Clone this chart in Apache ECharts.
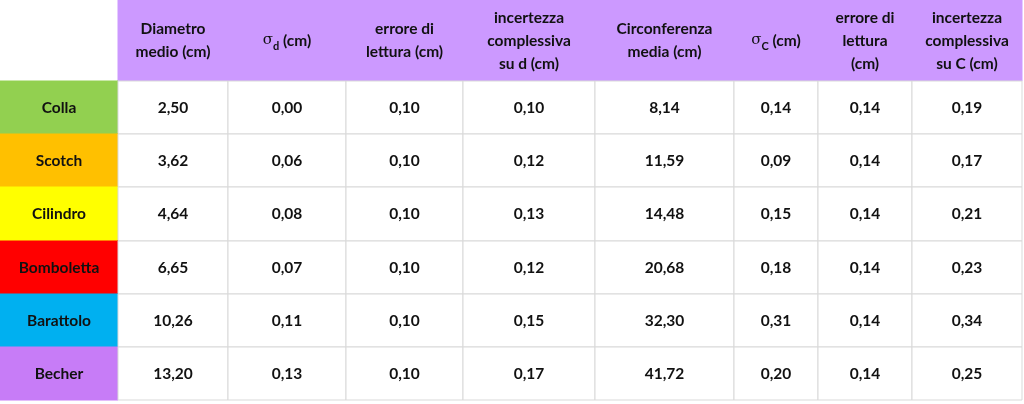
<!DOCTYPE html>
<html><head><meta charset="utf-8">
<script src="https://cdn.jsdelivr.net/npm/echarts@6/dist/echarts.min.js"></script>
<style>html,body{margin:0;padding:0;background:#fff}#c{width:1024px;height:404px}</style>
</head><body><div id="c"></div>
<script>
const headers = ["", "Diametro\nmedio (cm)", "{s|σ}{sub|d} (cm)", "errore di\nlettura (cm)", "incertezza\ncomplessiva\nsu d (cm)", "Circonferenza\nmedia (cm)", "{s|σ}{sub|C} (cm)", "errore di\nlettura\n(cm)", "incertezza\ncomplessiva\nsu C (cm)"];
const objects = ["Colla", "Scotch", "Cilindro", "Bomboletta", "Barattolo", "Becher"];
const diametro = ["2,50", "3,62", "4,64", "6,65", "10,26", "13,20"];
const sigmaD = ["0,00", "0,06", "0,08", "0,07", "0,11", "0,13"];
const erroreD = ["0,10", "0,10", "0,10", "0,10", "0,10", "0,10"];
const incD = ["0,10", "0,12", "0,13", "0,12", "0,15", "0,17"];
const circ = ["8,14", "11,59", "14,48", "20,68", "32,30", "41,72"];
const sigmaC = ["0,14", "0,09", "0,15", "0,18", "0,31", "0,20"];
const erroreC = ["0,14", "0,14", "0,14", "0,14", "0,14", "0,14"];
const incC = ["0,19", "0,17", "0,21", "0,23", "0,34", "0,25"];

// layout (styling only)
const colEdges = [0, 118, 228, 346, 463, 595, 734, 818, 912, 1022];
const rowEdges = [0, 81, 134, 187, 241, 294, 347, 400];
const rowColors = ["#92d050", "#ffc000", "#ffff00", "#ff0000", "#00b0f0", "#c77cf7"];
const headerColor = "#cc99ff";

const cols = [objects, diametro, sigmaD, erroreD, incD, circ, sigmaC, erroreC, incC];
const cells = [];
for (let c = 0; c < headers.length; c++) cells.push({value: [c, 0], text: headers[c]});
for (let r = 0; r < objects.length; r++)
  for (let c = 0; c < cols.length; c++) cells.push({value: [c, r + 1], text: cols[c][r]});

const chart = echarts.init(document.getElementById('c'));
chart.setOption({
  animation: false,
  grid: {left: 0, right: 0, top: 0, bottom: 0},
  xAxis: {type: 'value', min: 0, max: 1024, show: false},
  yAxis: {type: 'value', min: 0, max: 404, inverse: true, show: false},
  series: [{
    type: 'custom',
    data: cells,
    renderItem: function (params, api) {
      const c = api.value(0), r = api.value(1);
      const p0 = api.coord([colEdges[c], rowEdges[r]]);
      const p1 = api.coord([colEdges[c + 1], rowEdges[r + 1]]);
      let fill = '#fff';
      if (r === 0 && c > 0) fill = headerColor;
      else if (r > 0 && c === 0) fill = rowColors[r - 1];
      const txt = cells[params.dataIndex].text;
      return {
        type: 'group',
        children: [{
          type: 'rect',
          shape: {x: p0[0], y: p0[1], width: p1[0] - p0[0], height: p1[1] - p0[1]},
          style: {fill: fill, stroke: (r === 0 || c === 0) ? fill : '#d9d9d9', lineWidth: 1}
        }, {
          type: 'text',
          x: (p0[0] + p1[0]) / 2, y: (p0[1] + p1[1]) / 2,
          style: {
            text: txt, align: 'center', verticalAlign: 'middle',
            fontFamily: 'Lato', fontWeight: 'bold', fontSize: 15.5, lineHeight: 23, fill: '#111',
            rich: {
              s: {fontFamily: 'DejaVu Serif', fontSize: 15, fontWeight: 'normal', fill: '#111'},
              sub: {fontFamily: 'Lato', fontWeight: 'bold', fontSize: 11, verticalAlign: 'bottom', padding: [8, 0, 0, 0], fill: '#111'}
            }
          }
        }]
      };
    }
  }]
});
</script></body></html>
